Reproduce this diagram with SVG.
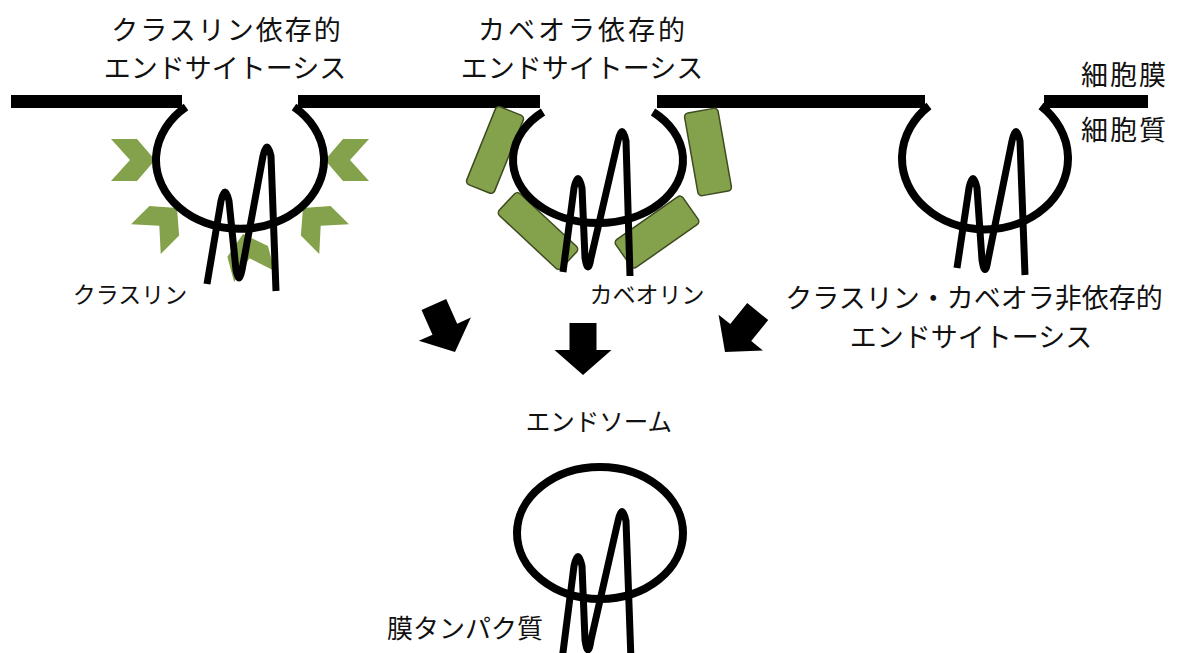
<svg xmlns="http://www.w3.org/2000/svg" width="1184" height="653" viewBox="0 0 1184 653">
  <style>
    .lbl { font-family: "Noto Sans CJK JP", "Noto Sans", sans-serif; fill: #111; }
    .big { font-size: 27px; }
    .small { font-size: 23px; }
    .membrane { fill: #000; }
    .vesicle { fill: none; stroke: #000; stroke-width: 8; }
    .protein { fill: none; stroke: #000; stroke-width: 7; stroke-linejoin: round; stroke-linecap: butt; }
    .clathrin { fill: #84a14b; }
    .caveolin { fill: #84a14b; stroke: #3d4c20; stroke-width: 1.5; }
    .arrow { fill: #000; }
  </style>
  <defs>
    <!-- chevron pointing +x, tip at origin -->
    <polygon id="chev" points="0,0 -18,-21 -44,-21 -25,0 -44,21 -18,21"/>
    <!-- block arrow pointing down, tip at origin -->
    <polygon id="blk" points="-13.5,-52 13.5,-52 13.5,-25 28.5,-25 0,0 -28.5,-25 -13.5,-25"/>
  </defs>
  <rect width="1184" height="653" fill="#fff"/>

  <!-- plasma membrane -->
  <g id="plasma-membrane">
    <rect class="membrane" x="11" y="95" width="171" height="13"/>
    <rect class="membrane" x="298" y="95" width="242" height="13"/>
    <rect class="membrane" x="657" y="95" width="268" height="13"/>
    <rect class="membrane" x="1044" y="95" width="104" height="13"/>
  </g>

  <!-- clathrin-coated pit -->
  <g id="clathrin-pit">
    <g class="clathrin">
      <use href="#chev" transform="translate(155,160)"/>
      <use href="#chev" transform="translate(325,160) rotate(180)"/>
      <use href="#chev" transform="translate(177,208) rotate(-45)"/>
      <use href="#chev" transform="translate(303,208) rotate(-135)"/>
      <use href="#chev" transform="translate(243,234) rotate(-105)"/>
    </g>
    <path class="vesicle" d="M186 107 A84 69 0 1 0 294 107"/>
    <path class="protein" d="M207 284 L221 201 Q225 183 229 201 L236 270 Q239 286 242 270 L263 156 Q267 138 271 156 L276 291"/>
  </g>

  <!-- caveola -->
  <g id="caveola">
    <g class="caveolin">
      <rect x="-15" y="-42" width="30" height="84" rx="4" transform="translate(495,150) rotate(22)"/>
      <rect x="-17" y="-42" width="34" height="84" rx="4" transform="translate(708,152) rotate(-10)"/>
      <rect x="-42.5" y="-15" width="85" height="30" rx="4" transform="translate(538,231) rotate(43)"/>
      <rect x="-41" y="-17" width="82" height="34" rx="4" transform="translate(657,232) rotate(-35)"/>
    </g>
    <path class="vesicle" d="M543 112 A85 63 0 1 0 653 112"/>
    <path class="protein" d="M563 272 L574 188 Q578 169 582 188 L585 258 Q588 276 591 258 L618 141 Q622 122 626 141 L630 276"/>
  </g>

  <!-- clathrin/caveolin-independent pit -->
  <g id="independent-pit">
    <path class="vesicle" d="M929 106 A83 71 0 1 0 1041 106"/>
    <path class="protein" d="M957 268 L969 188 Q973 169 977 188 L982 260 Q985 279 988 260 L1012 141 Q1016 122 1020 141 L1025 275"/>
  </g>

  <!-- endosome -->
  <g id="endosome">
    <ellipse class="vesicle" cx="600" cy="533" rx="83" ry="66"/>
    <path class="protein" d="M562 660 L574 566 Q578 547 582 566 L585 640 Q588 660 591 640 L618 521 Q622 502 626 521 L631 660"/>
  </g>

  <!-- arrows toward the endosome -->
  <g id="connectors" class="arrow">
    <use href="#blk" transform="translate(455,352) rotate(-24)"/>
    <use href="#blk" transform="translate(583,375)"/>
    <use href="#blk" transform="translate(725,352) rotate(39)"/>
  </g>

  <!-- labels -->
  <g id="labels" class="lbl">
    <text class="big" x="227" y="40" text-anchor="middle" letter-spacing="2">クラスリン依存的</text>
    <text class="big" x="225" y="78" text-anchor="middle">エンドサイトーシス</text>
    <text class="big" x="583" y="40" text-anchor="middle" letter-spacing="3">カベオラ依存的</text>
    <text class="big" x="582" y="78" text-anchor="middle">エンドサイトーシス</text>
    <text class="big" x="1081" y="85" letter-spacing="2">細胞膜</text>
    <text class="big" x="1081" y="140" letter-spacing="2">細胞質</text>
    <text class="small" x="130" y="303" text-anchor="middle">クラスリン</text>
    <text class="small" x="647" y="303" text-anchor="middle">カベオリン</text>
    <text class="big" x="974" y="308" text-anchor="middle">クラスリン・カベオラ非依存的</text>
    <text class="big" x="971" y="347" text-anchor="middle">エンドサイトーシス</text>
    <text x="599" y="431" text-anchor="middle" font-size="24.5">エンドソーム</text>
    <text x="387" y="638" font-size="26">膜タンパク質</text>
  </g>
</svg>
